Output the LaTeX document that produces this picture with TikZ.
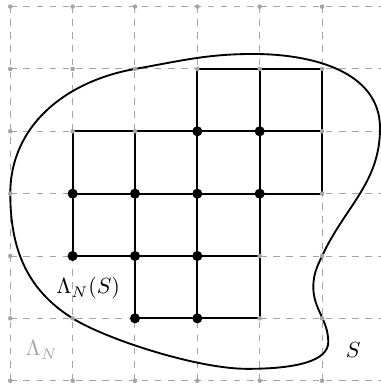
\documentclass[tikz,border=0pt]{standalone}
\usetikzlibrary{positioning}
\definecolor{gridgray}{RGB}{165,165,165}
\begin{document}
\begin{tikzpicture}[
  gridline/.style={dashed, gridgray, line width=0.45pt},
  gridpt/.style={circle, fill=gridgray, inner sep=0pt, minimum size=2.1pt},
  latpt/.style={circle, fill=black, inner sep=0pt, minimum size=4.6pt},
  cellline/.style={line width=0.85pt, black}
]
  \useasboundingbox (-0.165,-0.085) rectangle (5.945,6.106);

  %% Background lattice Lambda_N
  \foreach \k in {0,...,6}
    \draw[gridline] (0,\k) -- (6.2,\k);
  \foreach \i in {0,...,5}
    \draw[gridline] (\i,0) -- (\i,6);

  %% Cells of Lambda_N(S)
  \foreach \i/\k in {3/4,4/4,1/3,2/3,3/3,4/3,1/2,2/2,3/2,2/1,3/1}
    \draw[cellline] (\i,\k) rectangle ++(1,1);

  %% The set S
  \draw[line width=0.85pt]
    (0,3) to[out=90,in=190] (2.0,5.0)
          to[out=10,in=180] (3.9,5.24)
          to[out=0,in=90] (5.93,4.05)
          to[out=-90,in=65] (5.0,2.0)
          to[out=245,in=90] (4.86,1.5)
          to[out=-90,in=90] (5.1,0.62)
          .. controls (5.1,0.32) and (4.6,0.19) .. (3.8,0.19)
          .. controls (3.0,0.19) and (1.534,0.666) .. (1.0,1.0)
          to[out=148,in=-90] (0,3);

  %% Grid points
  \foreach \i in {0,...,5}
    \foreach \k in {0,...,6}
      \node[gridpt] (g-\i-\k) at (\i,\k) {};

  %% Points of Lambda_N(S)
  \foreach \i/\k in {3/4,4/4,1/3,2/3,3/3,4/3,1/2,2/2,3/2,2/1,3/1}
    \node[latpt] (p-\i-\k) at (\i,\k) {};

  %% Labels
  \node (lamS) at (1.25,1.48) {$\Lambda_N(S)$};
  \node[text=gridgray] (lamN) at (0.5,0.49) {$\Lambda_N$};
  \node (setS) at (5.5,0.49) {$S$};
\end{tikzpicture}
\end{document}
